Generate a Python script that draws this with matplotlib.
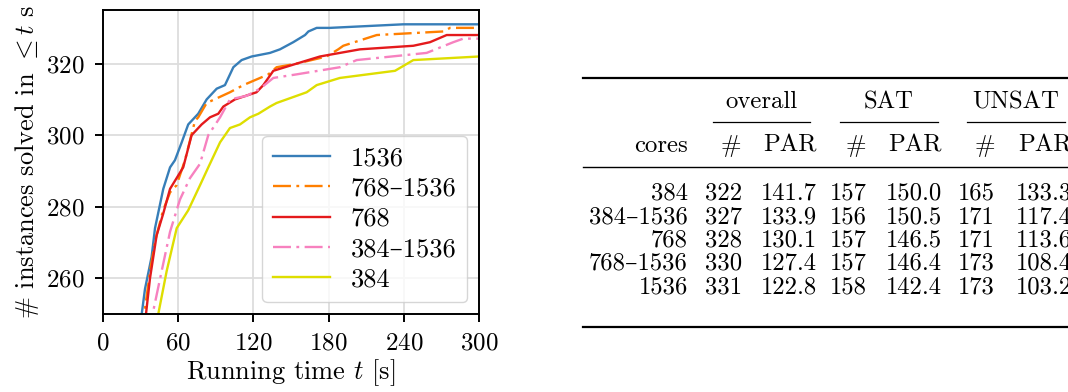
import matplotlib
matplotlib.use("Agg")
import matplotlib.pyplot as plt
from matplotlib.lines import Line2D

plt.rcParams['font.family'] = ['cmr10', 'DejaVu Serif']
plt.rcParams['mathtext.fontset'] = 'cm'
plt.rcParams['axes.unicode_minus'] = False
plt.rcParams['axes.formatter.use_mathtext'] = True
TICK_FS = 18
LABEL_FS = 19
TABLE_FS = 17.8
DASHDOT = (7.6, 2.3, 1.2, 2.3)

# cumulative number of solved instances over running time (s)
t_1536 = [29, 30.9, 33.5, 38.8, 41.5, 48.1, 53.5, 57.4, 62.8, 68, 76, 82.7, 90.7, 97.3, 104,
          110.6, 118.6, 133.2, 141.2, 151.8, 161.2, 163.9, 170.5, 181, 239.6, 300]
n_1536 = [245, 250, 257, 266, 274, 285, 291, 293, 298, 303, 306, 310, 313, 314, 319,
          321, 322, 323, 324, 326, 328, 329, 330, 330, 331, 331]

t_768_1536 = [31, 32.9, 38, 42, 48, 53.5, 58.7, 65.4, 73.4, 76, 82.7, 101.3, 112, 125.3,
              131.9, 138.5, 154.4, 178.4, 187.7, 191.7, 218.4, 271.5, 276.9, 300]
n_768_1536 = [245, 250, 263, 271, 279, 284, 286, 293, 304, 305, 309, 312, 314, 316,
              317, 319, 320, 322, 324, 325, 328, 329, 330, 330]

t_768 = [32.5, 34.3, 37.5, 42.8, 48, 53.5, 64, 70.7, 78.7, 85.4, 92, 96, 105.3, 122.5,
         127.9, 135.9, 154.4, 173.1, 189, 205, 247.6, 260.9, 274.2, 300]
n_768 = [245, 250, 260, 272, 278, 285, 291, 300, 303, 305, 306, 308, 310, 312,
         314, 318, 320, 322, 323, 324, 325, 326, 328, 328]

t_384_1536 = [38, 39.6, 46.8, 53.5, 61.4, 69.4, 77.4, 84, 93.4, 101.3, 114.6, 125.3, 135.9,
              154.4, 189, 202.4, 258.2, 279.5, 287.5, 300]
n_384_1536 = [245, 250, 262, 273, 282, 288, 292, 300, 305, 310, 311, 313, 316,
              317, 319, 321, 323, 326, 327, 327]

t_384 = [43, 44.1, 50.8, 58.8, 68, 77.4, 84, 93.4, 101.3, 109.3, 117.3, 124, 133.2, 138.5,
         162.5, 170.5, 189, 233, 247.6, 300]
n_384 = [245, 250, 262, 274, 279, 286, 291, 298, 302, 303, 305, 306, 308, 309,
         312, 314, 316, 318, 321, 322]

# table values
cores = ["384", "384–1536", "768", "768–1536", "1536"]
overall_n = [322, 327, 328, 330, 331]
overall_par = [141.7, 133.9, 130.1, 127.4, 122.8]
sat_n = [157, 156, 157, 157, 158]
sat_par = [150.0, 150.5, 146.5, 146.4, 142.4]
unsat_n = [165, 171, 171, 173, 173]
unsat_par = [133.3, 117.4, 113.6, 108.4, 103.2]

W, H = 1068, 392
fig = plt.figure(figsize=(W / 100, H / 100), dpi=100)
ax = fig.add_axes([103 / W, (H - 314) / H, 376 / W, 304 / H])

ax.plot(t_1536, n_1536, '-', color='#377eb8', lw=1.7, label='1536')
ax.plot(t_768_1536, n_768_1536, color='#ff7f00', lw=1.7, dashes=DASHDOT, label='768–1536')
ax.plot(t_768, n_768, '-', color='#e41a1c', lw=1.7, label='768')
ax.plot(t_384_1536, n_384_1536, color='#f781bf', lw=1.7, dashes=DASHDOT, label='384–1536')
ax.plot(t_384, n_384, '-', color='#dede00', lw=1.7, label='384')

ax.set_xlim(0, 300)
ax.set_ylim(250, 335)
ax.set_xticks([0, 60, 120, 180, 240, 300])
ax.set_yticks([260, 280, 300, 320])
ax.grid(True, color='#dddddd', lw=1.3)
ax.set_axisbelow(True)
ax.tick_params(labelsize=TICK_FS, width=1.4, length=6, pad=7)
for s in ax.spines.values():
    s.set_linewidth(1.4)
ax.set_xlabel(r'Running time $t$ [s]', fontsize=LABEL_FS, labelpad=2)
ax.set_ylabel(r'# instances solved in $\leq t$ s', fontsize=LABEL_FS, labelpad=4)
ax.legend(loc='lower right', fontsize=LABEL_FS, handlelength=2.15,
          labelspacing=0.25, borderaxespad=0.45)

# table drawn in pixel coordinates
tax = fig.add_axes([0, 0, 1, 1])
tax.set_xlim(0, W)
tax.set_ylim(H, 0)
tax.axis('off')

tax.add_line(Line2D([583, W], [78.3, 78.3], color='k', lw=1.6))
tax.add_line(Line2D([583, W], [166.5, 166.5], color='k', lw=1.0))
tax.add_line(Line2D([583, W], [326.5, 326.5], color='k', lw=1.6))
for x0, x1, name in [(713, 810, 'overall'), (840, 938, 'SAT'), (967, 1065, 'UNSAT')]:
    tax.add_line(Line2D([x0, x1], [121.7, 121.7], color='k', lw=0.9))
    tax.text((x0 + x1) / 2, 108.3, name, ha='center', va='baseline', fontsize=TABLE_FS)

col_right = [688, 741.7, 816.7, 866.7, 941.7, 995, 1071.7]
headers = ['cores', '#', 'PAR', '#', 'PAR', '#', 'PAR']
for x, h in zip(col_right, headers):
    tax.text(x, 151.7, h, ha='right', va='baseline', fontsize=TABLE_FS)

row_base = [199.5, 223, 246.5, 270, 293.5]
for i, y in enumerate(row_base):
    cells = [cores[i], str(overall_n[i]), f'{overall_par[i]:.1f}', str(sat_n[i]),
             f'{sat_par[i]:.1f}', str(unsat_n[i]), f'{unsat_par[i]:.1f}']
    for x, c in zip(col_right, cells):
        tax.text(x, y, c, ha='right', va='baseline', fontsize=TABLE_FS)

fig.savefig('out.png', dpi=100)
